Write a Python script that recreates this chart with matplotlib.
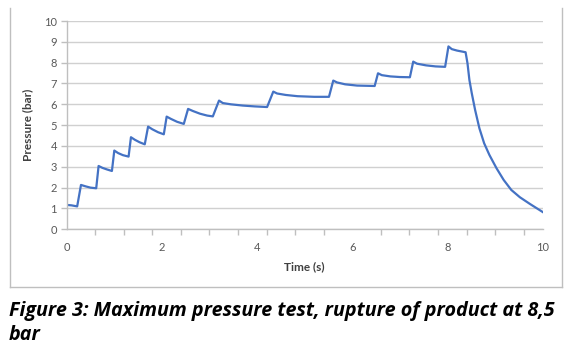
import matplotlib.pyplot as plt
from matplotlib.lines import Line2D
from matplotlib.ticker import MultipleLocator

# pressure readings
time_s = [0.0, 0.1, 0.22, 0.30, 0.40, 0.50, 0.62,
          0.67, 0.75, 0.85, 0.95,
          1.00, 1.08, 1.18, 1.30,
          1.35, 1.43, 1.53, 1.64,
          1.71, 1.80, 1.92, 2.04,
          2.10, 2.19, 2.32, 2.46,
          2.55, 2.65, 2.80, 2.95, 3.07,
          3.20, 3.28, 3.45, 3.70, 3.95, 4.21,
          4.34, 4.42, 4.60, 4.85, 5.20, 5.51,
          5.60, 5.68, 5.85, 6.10, 6.47,
          6.54, 6.62, 6.80, 7.00, 7.21,
          7.28, 7.36, 7.55, 7.75, 7.95,
          8.02, 8.09, 8.20, 8.38,
          8.42, 8.46, 8.51, 8.58, 8.67, 8.77, 8.88, 9.03, 9.18, 9.34, 9.52, 9.73, 10.0]
pressure_bar = [1.17, 1.15, 1.10, 2.13, 2.06, 2.00, 1.97,
                3.04, 2.95, 2.87, 2.80,
                3.78, 3.66, 3.56, 3.49,
                4.42, 4.30, 4.18, 4.08,
                4.93, 4.80, 4.66, 4.56,
                5.41, 5.30, 5.16, 5.06,
                5.78, 5.68, 5.55, 5.46, 5.42,
                6.18, 6.06, 6.00, 5.94, 5.90, 5.87,
                6.61, 6.52, 6.45, 6.39, 6.36, 6.36,
                7.14, 7.05, 6.96, 6.90, 6.88,
                7.49, 7.40, 7.34, 7.31, 7.30,
                8.05, 7.95, 7.87, 7.82, 7.80,
                8.78, 8.65, 8.58, 8.50,
                7.97, 7.17, 6.53, 5.73, 4.85, 4.13, 3.57, 2.93, 2.37, 1.89, 1.54, 1.22, 0.83]

caption_line1 = "Figure 3: Maximum pressure test, rupture of product at 8,5"
caption_line2 = "bar"

W, H = 571, 353
fig = plt.figure(figsize=(W / 100, H / 100), dpi=100)
ax = fig.add_axes([66.7 / W, 1 - 229.3 / H, 476 / W, 208.3 / H])

ax.plot(time_s, pressure_bar, color="#4472C4", lw=1.6, solid_joinstyle="round")

ax.set_xlim(0, 10)
ax.set_ylim(0, 10)
ax.xaxis.set_major_locator(MultipleLocator(2))
ax.xaxis.set_minor_locator(MultipleLocator(0.6))
ax.yaxis.set_major_locator(MultipleLocator(1))
ax.grid(axis="y", color="#d0d0d0", lw=1)
ax.set_axisbelow(True)

for side in ["top", "right"]:
    ax.spines[side].set_visible(False)
for side in ["left", "bottom"]:
    ax.spines[side].set_color("#bfbfbf")
    ax.spines[side].set_linewidth(1)

ax.tick_params(axis="x", which="major", length=0, pad=9, labelsize=8, labelcolor="#595959")
ax.tick_params(axis="x", which="minor", length=4, width=1, color="#bfbfbf")
ax.tick_params(axis="y", length=4, width=1, color="#bfbfbf", pad=3, labelsize=8, labelcolor="#595959")
for lab in ax.get_xticklabels() + ax.get_yticklabels():
    lab.set_family("Lato")

ax.set_xlabel("Time (s)", fontsize=8.5, fontweight="bold", family="Lato", color="#404040", labelpad=6)
ax.set_ylabel("Pressure (bar)", fontsize=8.5, fontweight="bold", family="Lato", color="#404040", labelpad=8)

# chart area border (left, right, bottom)
border = dict(color="#bfbfbf", lw=1, transform=fig.transFigure)
fig.add_artist(Line2D([10 / W, 10 / W], [1 - 8 / H, 1 - 287 / H], **border))
fig.add_artist(Line2D([561.5 / W, 561.5 / W], [1 - 8 / H, 1 - 287 / H], **border))
fig.add_artist(Line2D([10 / W, 561.5 / W], [1 - 287 / H, 1 - 287 / H], **border))

cap = dict(fontsize=14.2, fontweight="bold", fontstyle="italic", family="Open Sans", color="black", va="top")
fig.text(9 / W, 1 - 301 / H, caption_line1, **cap)
fig.text(9 / W, 1 - 325 / H, caption_line2, **cap)

fig.savefig("out.png", dpi=100)
